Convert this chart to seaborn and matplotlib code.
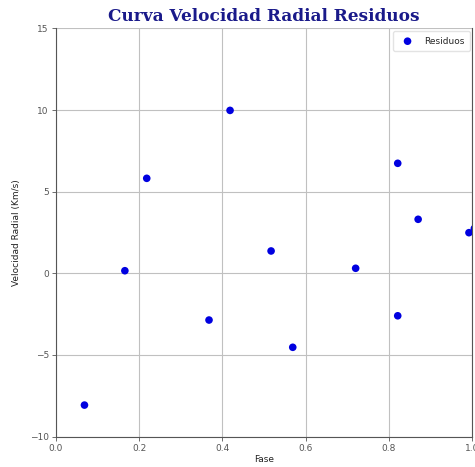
import matplotlib
matplotlib.use("Agg")
import matplotlib.pyplot as plt
import seaborn as sns
import pandas as pd

fase = [0.069, 0.166, 0.2185, 0.368, 0.4185, 0.517, 0.569, 0.720, 0.821, 0.821, 0.870, 0.992, 1.005]
residuos = [-8.07, 0.16, 5.82, -2.86, 9.98, 1.37, -4.53, 0.31, 6.74, -2.60, 3.31, 2.49, 2.75]

xticks = [0.0, 0.2, 0.4, 0.6, 0.8, 1.0]
yticks = [-10, -5, 0, 5, 10, 15]

sns.set_style("whitegrid", {"grid.color": "#c0c0c0", "axes.edgecolor": "#555555",
                            "xtick.bottom": True, "ytick.left": True})
plt.rcParams['font.family'] = ['DejaVu Sans']

df = pd.DataFrame({"Fase": fase, "Residuos": residuos})

fig = plt.figure(figsize=(4.75, 4.67), dpi=100)
ax = fig.add_axes([0.1173, 0.0651, 0.877, 0.874])
sns.scatterplot(data=df, x="Fase", y="Residuos", ax=ax, color="#0000e0",
                s=30, edgecolor="none", label="Residuos", zorder=3)

ax.set_xlim(0, 1.0)
ax.set_ylim(-10, 15)
ax.set_xticks(xticks)
ax.set_yticks(yticks)
ax.tick_params(axis="both", labelsize=6.5, colors="#555555", length=3, width=0.6, pad=2)
ax.set_xlabel("Fase", fontsize=6.5, color="#222222", labelpad=2)
ax.set_ylabel("Velocidad Radial (Km/s)", fontsize=6.5, color="#222222", labelpad=6)
ax.grid(True, linewidth=0.8)
ax.spines["top"].set_visible(False)
for s in ["left", "bottom", "right"]:
    ax.spines[s].set_linewidth(0.8)

ax.set_title("Curva Velocidad Radial Residuos", fontsize=12.2, fontweight="bold",
             color="#1a1a8a", family="DejaVu Serif", pad=5)

leg = ax.legend(loc="upper right", fontsize=6.5, frameon=True, markerscale=1.0,
                handletextpad=0.8, borderpad=0.6, borderaxespad=0.3)
leg.get_frame().set_edgecolor("#dddddd")

fig.savefig("out.png", dpi=100)
